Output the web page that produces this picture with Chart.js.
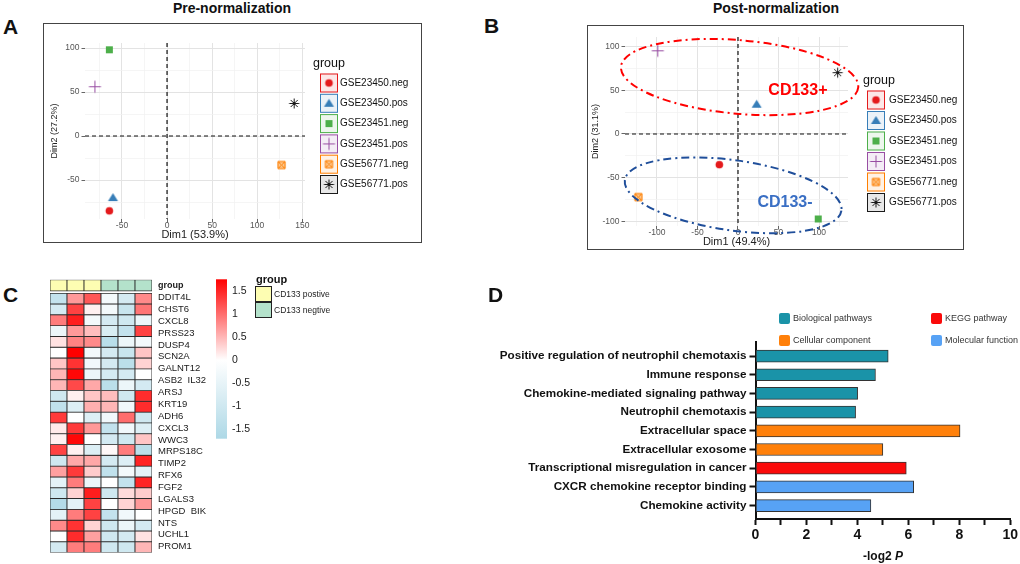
<!DOCTYPE html>
<html>
<head>
<meta charset="utf-8">
<title>CD133 PCA, heatmap and enrichment</title>
<script src="https://cdn.jsdelivr.net/npm/chart.js@4.4.1/dist/chart.umd.min.js"></script>
<style>
  body { margin: 0; width: 1020px; height: 564px; position: relative; overflow: hidden; background: #fff;
         font-family: Arial, "Liberation Sans", Helvetica, sans-serif; color: #111; }
  .abs { position: absolute; }
  .letter { font-size: 21px; line-height: 21px; font-weight: bold; }
  .title { font-size: 14px; line-height: 14px; font-weight: bold; width: 240px; text-align: center; }
  .frame { border: 1.5px solid #444; box-sizing: border-box; pointer-events: none; }
</style>
</head>
<body>
<div class="abs letter" style="left:3px;top:16px">A</div>
<div class="abs title" style="left:112px;top:1px">Pre-normalization</div>
<canvas id="pre" class="abs" width="379" height="220" style="left:43px;top:23px"></canvas>
<div class="abs frame" style="left:43px;top:23px;width:379px;height:220px"></div>

<div class="abs letter" style="left:484px;top:15px">B</div>
<div class="abs title" style="left:656px;top:1px">Post-normalization</div>
<canvas id="post" class="abs" width="377" height="225" style="left:587px;top:25px"></canvas>
<div class="abs frame" style="left:587px;top:25px;width:377px;height:225px"></div>

<div class="abs letter" style="left:3px;top:284px">C</div>
<canvas id="heat" class="abs" width="175" height="296" style="left:40px;top:268px"></canvas>
<canvas id="scale" class="abs" width="45" height="182" style="left:212px;top:268px"></canvas>
<div id="annoLegend"></div>

<div class="abs letter" style="left:488px;top:284px">D</div>
<canvas id="go" class="abs" width="530" height="264" style="left:490px;top:300px"></canvas>
<div id="goLegend"></div>
<div class="abs" style="left:833px;top:549px;width:100px;text-align:center;font-weight:bold;font-size:12px;line-height:14px">-log2 <i>P</i></div>

<script>
const FONT = 'Arial, "Liberation Sans", Helvetica, sans-serif';

// PCA groups
const groups = ['GSE23450.neg', 'GSE23450.pos', 'GSE23451.neg', 'GSE23451.pos', 'GSE56771.neg', 'GSE56771.pos'];
const groupColors = ['#e41a1c', '#377eb8', '#4daf4a', '#984ea3', '#ff7f00', '#1a1a1a'];
const groupShapes = ['circle', 'triangle', 'square', 'plus', 'boxcross', 'asterisk'];

// A: before normalization
const preDim1 = [-64, -60, -64, -80, 127, 141];
const preDim2 = [-85, -70, 98, 56, -33, 37];
const preXTicks = [-50, 0, 50, 100, 150];
const preYTicks = [-50, 0, 50, 100];

// B: after normalization
const postDim1 = [-23, 23, 99, -99, -123, 123];
const postDim2 = [-35, 34, -97, 95, -72, 70];
const postXTicks = [-100, -50, 0, 50, 100];
const postYTicks = [-100, -50, 0, 50, 100];

// B: cluster ellipses (data units, tilt in degrees)
const clusterNames = ['CD133+', 'CD133-'];
const clusterLineColors = ['#ff0000', '#1f4e9a'];
const clusterTextColors = ['#ff0000', '#3a6fc4'];
const clusterCx = [2, -6];
const clusterCy = [65, -70];
const clusterRx = [147, 135];
const clusterRy = [42, 40];
const clusterTilt = [5, 8];
const clusterLabelX = [74, 58];
const clusterLabelY = [49, -78];

// C: heatmap
const sampleIds = ['P1', 'P2', 'P3', 'N1', 'N2', 'N3'];
const sampleGroup = [0, 0, 0, 1, 1, 1];
const groupLevels = ['CD133 postive', 'CD133 negtive'];
const annoColors = ['#fdfdb2', '#b4e2cb'];
const geneLabels = ['DDIT4L', 'CHST6', 'CXCL8', 'PRSS23', 'DUSP4', 'SCN2A', 'GALNT12', 'ASB2  IL32', 'ARSJ',
  'KRT19', 'ADH6', 'CXCL3', 'WWC3', 'MRPS18C', 'TIMP2', 'RFX6', 'FGF2', 'LGALS3', 'HPGD  BIK', 'NTS', 'UCHL1', 'PROM1'];
const heatValues = [
  [-1.25, 0.7, 1.15, -0.25, -0.9, 0.8],
  [-0.9, 1.3, 0.1, -0.25, -1.15, 0.95],
  [0.9, 1.55, -0.25, -0.9, -1.0, -0.4],
  [-0.4, 0.7, 0.45, -0.8, -1.25, 1.3],
  [0.2, 0.85, 0.8, -1.45, -0.4, -0.25],
  [0.0, 1.75, -0.25, -0.9, -1.15, 0.4],
  [0.4, 1.4, -0.3, -0.9, -1.4, 0.3],
  [0.5, 1.7, -0.4, -0.9, -0.9, 0.0],
  [0.5, 1.25, 0.6, -1.4, -0.4, -0.9],
  [-1.0, 0.1, 0.4, 0.45, -1.0, 1.45],
  [-1.3, -0.7, 0.55, 0.5, -0.3, 1.45],
  [1.35, 0.0, -0.7, -0.3, 1.0, -1.0],
  [0.15, 1.35, 0.7, -1.25, -0.3, -0.7],
  [0.1, 1.7, 0.0, -0.9, -1.0, 0.4],
  [1.3, 0.1, -0.7, 0.05, 0.9, -1.4],
  [-1.0, 0.6, 0.6, -0.9, -0.7, 1.5],
  [0.65, 1.35, 0.35, -1.3, -0.25, -0.55],
  [-0.55, 0.9, -0.4, 0.0, -1.25, 1.5],
  [-1.0, 0.3, 1.55, -1.0, 0.25, 0.35],
  [-1.55, -0.55, 1.3, 0.0, 0.3, 0.7],
  [-0.55, 0.9, 1.3, -1.25, -0.3, 0.0],
  [0.8, 1.4, 0.3, -1.0, -0.4, -0.9],
  [0.0, 1.45, 0.65, -1.0, -0.9, 0.2],
  [-0.9, 0.9, 0.9, -1.0, -1.0, 0.5]
];
const heatLow = -1.7, heatHigh = 1.75;
const scaleTicks = [-1.5, -1, -0.5, 0, 0.5, 1, 1.5];

// D: enrichment
const goTerms = ['Positive regulation of neutrophil chemotaxis', 'Immune response', 'Chemokine-mediated signaling pathway',
  'Neutrophil chemotaxis', 'Extracellular space', 'Extracellular exosome', 'Transcriptional misregulation in cancer',
  'CXCR chemokine receptor binding', 'Chemokine activity'];
const goValues = [5.21, 4.71, 4.01, 3.93, 8.03, 5.0, 5.92, 6.21, 4.53];
const goTermCat = [0, 0, 0, 0, 2, 2, 1, 3, 3];
const goCategories = ['Biological pathways', 'KEGG pathway', 'Cellular component', 'Molecular function'];
const goCatColors = ['#1a93a8', '#fa0a0a', '#ff800a', '#57a2f5'];
const goXTicks = [0, 1, 2, 3, 4, 5, 6, 7, 8, 9, 10];

Chart.defaults.font.family = FONT;
Chart.defaults.animation = false;
Chart.defaults.responsive = false;
Chart.defaults.plugins.legend.display = false;
Chart.defaults.plugins.tooltip.enabled = false;

function hexAlpha(hex, a) {
  const n = parseInt(hex.slice(1), 16);
  return `rgba(${n >> 16},${(n >> 8) & 255},${n & 255},${a})`;
}

function makeSymbol(shape, color) {
  const c = document.createElement('canvas');
  c.width = c.height = 15;
  const g = c.getContext('2d');
  const m = 7.5;
  g.fillStyle = color; g.strokeStyle = color; g.lineWidth = 1;
  g.beginPath();
  if (shape === 'circle') { g.arc(m, m, 3.8, 0, 2 * Math.PI); g.fill(); }
  else if (shape === 'triangle') { g.moveTo(m, m - 4.6); g.lineTo(m + 5, m + 3.6); g.lineTo(m - 5, m + 3.6); g.closePath(); g.fill(); }
  else if (shape === 'square') { g.rect(m - 3.5, m - 3.5, 7, 7); g.fill(); }
  else if (shape === 'plus') { g.moveTo(m - 6, m); g.lineTo(m + 6, m); g.moveTo(m, m - 6); g.lineTo(m, m + 6); g.stroke(); }
  else if (shape === 'boxcross') {
    g.fillStyle = '#fcc890'; g.fillRect(m - 4, m - 4, 8, 8);
    g.rect(m - 3.5, m - 3.5, 7, 7);
    g.moveTo(m - 3.5, m - 3.5); g.lineTo(m + 3.5, m + 3.5);
    g.moveTo(m + 3.5, m - 3.5); g.lineTo(m - 3.5, m + 3.5);
    g.stroke();
  } else if (shape === 'asterisk') {
    for (let k = 0; k < 4; k++) {
      const a = k * Math.PI / 4;
      g.moveTo(m - 5 * Math.cos(a), m - 5 * Math.sin(a));
      g.lineTo(m + 5 * Math.cos(a), m + 5 * Math.sin(a));
    }
    g.stroke();
  }
  return c;
}
const symbols = groupShapes.map((s, i) => makeSymbol(s, groupColors[i]));

// dashed lines through the origin
const zeroLines = {
  id: 'zeroLines',
  beforeDatasetsDraw(chart) {
    const { ctx, chartArea: a, scales: { x, y } } = chart;
    const px = x.getPixelForValue(0), py = y.getPixelForValue(0);
    ctx.save();
    ctx.strokeStyle = '#111'; ctx.lineWidth = 1.2; ctx.setLineDash([4, 3]);
    ctx.beginPath();
    ctx.moveTo(px, a.top); ctx.lineTo(px, a.bottom);
    ctx.moveTo(a.left, py); ctx.lineTo(a.right, py);
    ctx.stroke();
    ctx.restore();
  }
};

// ggplot-like legend with boxed keys
function groupLegend(pos) {
  return {
    id: 'groupLegend',
    afterDraw(chart) {
      const { ctx, chartArea: a } = chart;
      ctx.save();
      ctx.textBaseline = 'middle';
      ctx.fillStyle = '#111';
      ctx.font = '12.5px ' + FONT;
      ctx.fillText('group', a.right + pos.titleX, a.top + pos.titleY);
      ctx.font = '10px ' + FONT;
      groups.forEach((g, i) => {
        const kx = a.right + pos.keyX, cy = a.top + pos.keyY + i * pos.step;
        ctx.fillStyle = hexAlpha(groupColors[i], 0.1);
        ctx.fillRect(kx, cy - 9.5, 18, 19);
        ctx.strokeStyle = groupColors[i]; ctx.lineWidth = 1;
        ctx.strokeRect(kx + 0.5, cy - 9, 17, 18);
        ctx.drawImage(symbols[i], kx + 9 - 7.5, cy - 7.5);
        ctx.fillStyle = '#111';
        ctx.fillText(g, a.right + pos.textX, cy);
      });
      ctx.restore();
    }
  };
}

const clusterEllipses = {
  id: 'clusterEllipses',
  afterDatasetsDraw(chart) {
    const { ctx, scales: { x, y } } = chart;
    clusterNames.forEach((name, i) => {
      const cx = x.getPixelForValue(clusterCx[i]);
      const cy = y.getPixelForValue(clusterCy[i]);
      const rx = Math.abs(x.getPixelForValue(clusterCx[i] + clusterRx[i]) - cx);
      const ry = Math.abs(y.getPixelForValue(clusterCy[i] + clusterRy[i]) - cy);
      ctx.save();
      ctx.strokeStyle = clusterLineColors[i]; ctx.lineWidth = 2; ctx.setLineDash([8, 4, 2, 4]);
      ctx.beginPath();
      ctx.ellipse(cx, cy, rx, ry, clusterTilt[i] * Math.PI / 180, 0, 2 * Math.PI);
      ctx.stroke();
      ctx.fillStyle = clusterTextColors[i];
      ctx.font = 'bold 16px ' + FONT;
      ctx.textAlign = 'center'; ctx.textBaseline = 'middle';
      ctx.fillText(name, x.getPixelForValue(clusterLabelX[i]), y.getPixelForValue(clusterLabelY[i]));
      ctx.restore();
    });
  }
};

function withMinor(majors, min, max) {
  const step = majors[1] - majors[0];
  const out = [];
  for (let v = majors[0] - step; v <= majors[majors.length - 1] + step; v += step / 2) {
    if (v >= min && v <= max) out.push(v);
  }
  return out;
}

function pcaAxis(majors, min, max, pad, extra) {
  const major = c => c.tick && majors.includes(c.tick.value);
  return Object.assign({
    type: 'linear', min, max,
    afterBuildTicks: s => { s.ticks = withMinor(majors, min, max).map(v => ({ value: v })); },
    grid: {
      color: c => major(c) ? '#e3e3e3' : '#f1f1f1',
      lineWidth: c => major(c) ? 1 : 0.7,
      tickLength: 3.5,
      tickWidth: 1,
      tickColor: c => major(c) ? '#666' : 'rgba(0,0,0,0)'
    },
    border: { display: false },
    ticks: { callback: v => majors.includes(v) ? String(v) : '', color: '#555', font: { size: 8.5 },
             autoSkip: false, maxRotation: 0, padding: pad }
  }, extra);
}

function pcaChart(id, dim1, dim2, o) {
  return new Chart(document.getElementById(id), {
    type: 'scatter',
    data: {
      datasets: groups.map((g, i) => ({
        label: g,
        data: [{ x: dim1[i], y: dim2[i] }],
        pointStyle: symbols[i],
        pointRadius: 5
      }))
    },
    options: {
      layout: { padding: o.padding },
      scales: {
        x: pcaAxis(o.xTicks, o.xMin, o.xMax, o.xTickPad, {
          afterFit: s => { s.height = o.xHeight; },
          title: { display: true, text: o.xTitle, color: '#222', font: { size: 11 }, padding: { top: 0, bottom: o.xTitlePad } }
        }),
        y: pcaAxis(o.yTicks, o.yMin, o.yMax, 2, {
          afterFit: s => { s.width = o.yWidth; },
          title: { display: true, text: o.yTitle, color: '#222', font: { size: 9 }, padding: { top: o.yTitlePad, bottom: 0 } }
        })
      }
    },
    plugins: o.plugins
  });
}

pcaChart('pre', preDim1, preDim2, {
  padding: { top: 20, right: 117, left: 0, bottom: 0 },
  xTicks: preXTicks, xMin: -91, xMax: 153, xHeight: 24, xTickPad: -1.5, xTitle: 'Dim1 (53.9%)', xTitlePad: 1.5,
  yTicks: preYTicks, yMin: -94.3, yMax: 105.7, yWidth: 42, yTitle: 'Dim2 (27.2%)', yTitlePad: 6.6,
  plugins: [zeroLines, groupLegend({ titleX: 8, titleY: 21, keyX: 15, keyY: 40, textX: 35, step: 20.3 })]
});

pcaChart('post', postDim1, postDim2, {
  padding: { top: 12, right: 116, left: 0, bottom: 0 },
  xTicks: postXTicks, xMin: -139.5, xMax: 135.8, xHeight: 24, xTickPad: -1.5, xTitle: 'Dim1 (49.4%)', xTitlePad: 1,
  yTicks: postYTicks, yMin: -105, yMax: 110.7, yWidth: 38, yTitle: 'Dim2 (31.1%)', yTitlePad: 3.6,
  plugins: [zeroLines, clusterEllipses, groupLegend({ titleX: 15, titleY: 44, keyX: 19, keyY: 63, textX: 41, step: 20.5 })]
});

// ---- C: heatmap ----
function heatColor(v) {
  const mid = [255, 255, 255], hi = [255, 0, 0], lo = [173, 216, 230];
  const t = v >= 0 ? Math.min(v / heatHigh, 1) : Math.min(v / heatLow, 1);
  const end = v >= 0 ? hi : lo;
  return 'rgb(' + mid.map((m, k) => Math.round(m + (end[k] - m) * t)).join(',') + ')';
}

const heatDatasets = heatValues.map((row, r) => ({
  label: 'row' + r,
  data: row.map(() => [r, r + 1]),
  backgroundColor: row.map(heatColor)
}));
heatDatasets.unshift({
  label: 'group',
  data: sampleIds.map(() => [-1.25, -0.2]),
  backgroundColor: sampleGroup.map(g => annoColors[g])
});

new Chart(document.getElementById('heat'), {
  type: 'bar',
  data: { labels: sampleIds, datasets: heatDatasets },
  options: {
    layout: { padding: { top: 7, right: 3, bottom: 4, left: 10 } },
    datasets: { bar: { grouped: false, categoryPercentage: 1, barPercentage: 1, borderWidth: 0.8,
                       borderColor: '#2b2b2b', borderSkipped: false } },
    scales: {
      x: { display: false },
      y: { display: false, reverse: true, min: -1.25, max: 24 },
      yLab: {
        type: 'category', position: 'right', labels: ['group'].concat(geneLabels), offset: true,
        afterFit: s => { s.width = 60; },
        grid: { display: false, drawTicks: false },
        border: { display: false },
        ticks: { padding: 6, color: '#1a1a1a', autoSkip: false,
                 font: c => c.index === 0 ? { size: 9, weight: 'bold' } : { size: 9.5 } }
      }
    }
  }
});

const scaleGradient = {
  id: 'scaleGradient',
  beforeDraw(chart) {
    const { ctx, chartArea: a, scales: { y } } = chart;
    const top = y.getPixelForValue(heatHigh), bottom = y.getPixelForValue(heatLow);
    const g = ctx.createLinearGradient(0, top, 0, bottom);
    g.addColorStop(0, heatColor(heatHigh));
    g.addColorStop((y.getPixelForValue(0) - top) / (bottom - top), heatColor(0));
    g.addColorStop(1, heatColor(heatLow));
    ctx.save();
    ctx.fillStyle = g;
    ctx.fillRect(a.left, top, a.right - a.left, bottom - top);
    ctx.restore();
  }
};

new Chart(document.getElementById('scale'), {
  type: 'scatter',
  data: { datasets: [] },
  options: {
    layout: { padding: { top: 5, right: 0, bottom: 8, left: 4 } },
    scales: {
      x: { display: false, min: 0, max: 1 },
      y: {
        position: 'right', min: heatLow, max: heatHigh,
        afterBuildTicks: s => { s.ticks = scaleTicks.map(v => ({ value: v })); },
        afterFit: s => { s.width = 30; },
        grid: { display: false, drawTicks: false },
        border: { display: false },
        ticks: { callback: v => String(v), padding: 5, color: '#1a1a1a', font: { size: 10.5 } }
      }
    }
  },
  plugins: [scaleGradient]
});

const anno = document.getElementById('annoLegend');
anno.innerHTML = '<div class="abs" style="left:256px;top:272px;font-weight:bold;font-size:11px;line-height:14px">group</div>' +
  groupLevels.map((g, i) =>
    `<div class="abs" style="left:255px;top:${286 + i * 16}px;width:17px;height:16px;box-sizing:border-box;border:1px solid #222;background:${annoColors[i]}"></div>` +
    `<div class="abs" style="left:274px;top:${288 + i * 16}px;font-size:8.5px;line-height:12px;color:#222">${g}</div>`
  ).join('');

// ---- D: enrichment bars ----
new Chart(document.getElementById('go'), {
  type: 'bar',
  data: {
    datasets: [{
      label: '-log2 P',
      data: goValues.map((v, i) => ({ x: v, y: i })),
      backgroundColor: goTermCat.map(c => goCatColors[c]),
      borderColor: '#333',
      borderWidth: 1,
      borderSkipped: false,
      barThickness: 12
    }]
  },
  options: {
    indexAxis: 'y',
    layout: { padding: { top: 41.5, right: 8.3, left: 0, bottom: 0 } },
    scales: {
      x: {
        type: 'linear', min: 0, max: 10,
        afterBuildTicks: s => { s.ticks = goXTicks.map(v => ({ value: v })); },
        afterFit: s => { s.height = 45; },
        grid: { drawOnChartArea: false, tickLength: 6, tickWidth: 2, tickColor: '#111' },
        border: { color: '#111', width: 2 },
        ticks: { callback: v => v % 2 === 0 ? String(v) : '', color: '#111', font: { size: 14, weight: 'bold' },
                 padding: 2, autoSkip: false, maxRotation: 0 }
      },
      y: {
        type: 'linear', reverse: true, min: -0.78, max: 8.72, offset: false,
        afterBuildTicks: s => { s.ticks = goTerms.map((t, i) => ({ value: i })); },
        afterFit: s => { s.width = 265.5; },
        grid: { drawOnChartArea: false, offset: false, tickLength: 6, tickWidth: 2, tickColor: '#111' },
        border: { color: '#111', width: 2 },
        ticks: { callback: v => goTerms[v], color: '#111', font: { size: 11.7, weight: 'bold' }, padding: 3, autoSkip: false }
      }
    }
  }
});

const legendSlots = [[779, 313], [931, 313], [779, 335], [931, 335]];
document.getElementById('goLegend').innerHTML = goCategories.map((name, i) =>
  `<div class="abs" style="left:${legendSlots[i][0]}px;top:${legendSlots[i][1]}px;width:11px;height:11px;border-radius:2px;background:${goCatColors[i]}"></div>` +
  `<div class="abs" style="left:${legendSlots[i][0] + 14}px;top:${legendSlots[i][1] - 1}px;font-size:9px;line-height:13px;color:#333">${name}</div>`
).join('');
</script>
</body>
</html>
